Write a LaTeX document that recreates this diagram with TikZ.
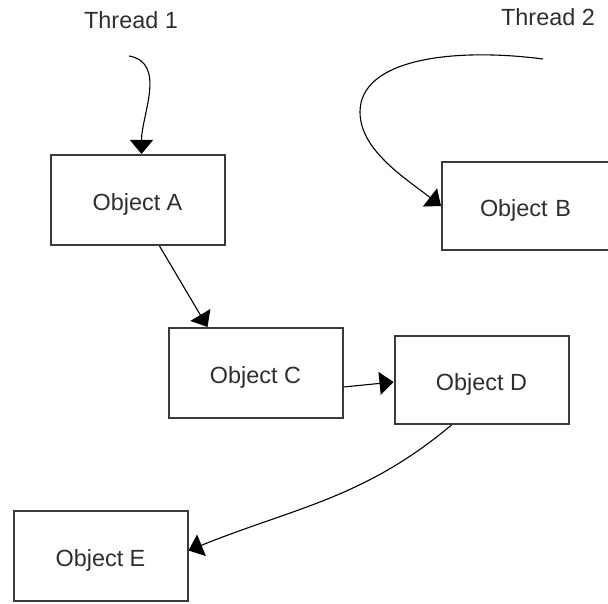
\documentclass[tikz,border=0pt]{standalone}
\usepackage{fontspec}
\setmainfont{Liberation Sans}
\usetikzlibrary{arrows.meta, positioning}
\definecolor{edge}{HTML}{3A3A3A}
\definecolor{ink}{HTML}{2E2E2E}
\tikzset{
  objbox/.style={rectangle, draw=edge, line width=1pt, fill=white,
    minimum width=87pt, minimum height=45pt, align=center, text=ink,
    text height=12.5pt, text depth=2pt,
    font=\fontsize{11.7}{14}\selectfont},
  threadlabel/.style={text=ink, font=\fontsize{11.7}{14}\selectfont},
  arrow/.style={-{Triangle[length=7pt, width=11.5pt]}, line width=0.55pt, black},
}

\begin{document}
\begin{tikzpicture}[x=0.5pt, y=-0.5pt]
\useasboundingbox (0,0) rectangle (608,603);
\begin{scope}
\clip (0,0) rectangle (608,603);
\node[threadlabel] (t1) at (131,20) {Thread 1};
\node[threadlabel] (t2) at (548,17) {Thread 2};
\coordinate (t1s) at (129,56);
\coordinate (t2s) at (543,59);
\node[objbox] (a) at (137.5,200) {Object A};
% B runs on past the right margin
\node[objbox, minimum width=110pt, minimum height=44pt, text width=72pt, align=left] (b) at (552,206) {Object B};
\node[objbox] (c) at (255.5,373) {Object C};
\node[objbox, minimum height=44pt] (d) at (481.5,380) {Object D};
\node[objbox] (e) at (100.5,555.5) {Object E};
% threads entering their first objects
\draw[arrow] (t1s) to[out=-10, in=90] ([xshift=2pt]a.north);
\draw[arrow] (t2s) .. controls (450,47) and (360,60) .. (360,112)
  .. controls (360,150) and (405,178) .. (b.west);
% calls between objects
\draw[arrow] ([xshift=11pt]a.south) -- ([xshift=-24pt]c.north);
\draw[arrow] ([yshift=-7pt]c.east) -- ([yshift=-1pt]d.west);
\draw[arrow] ([xshift=-15pt]d.south) to[out=-140, in=22] ([yshift=2.5pt]e.east);
\end{scope}
\end{tikzpicture}
\end{document}
